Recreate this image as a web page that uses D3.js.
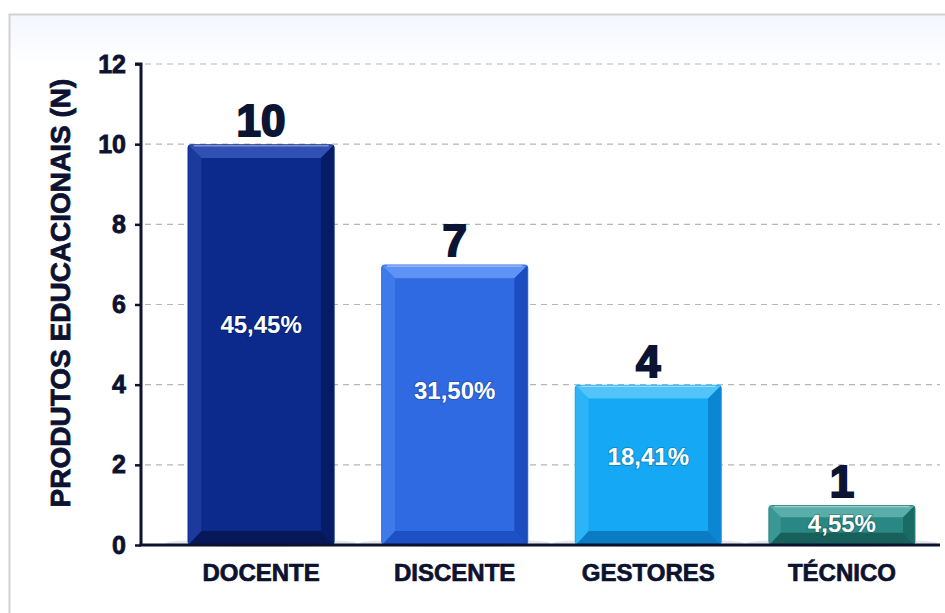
<!DOCTYPE html>
<html>
<head>
<meta charset="utf-8">
<script src="https://cdn.jsdelivr.net/npm/d3@7"></script>
<style>
  body { margin: 0; background: #fff; }
  text { font-family: "Liberation Sans", Arial, sans-serif; font-weight: bold; }
</style>
</head>
<body>
<script>
// chart data
let categories = ["DOCENTE", "DISCENTE", "GESTORES", "TÉCNICO"];
let values = [10, 7, 4, 1];
let percents = ["45,45%", "31,50%", "18,41%", "4,55%"];
let yTicks = [0, 2, 4, 6, 8, 10, 12];

// colour set per bar: face, top bevel, left bevel, right bevel, bottom bevel
let palette = [
  {face: "#0b2a8c", top: "#3150b4", left: "#1c3a9e", right: "#071c66", bottom: "#061858"},
  {face: "#2f6ae2", top: "#5e92f4", left: "#3f7aea", right: "#1b4cc0", bottom: "#1d50c4"},
  {face: "#15a9f5", top: "#52c4fa", left: "#2cb4f7", right: "#0a86d2", bottom: "#0b7cc4"},
  {face: "#2a8884", top: "#5aaeaa", left: "#3a9894", right: "#1a6a66", bottom: "#17605c"}
];

let width = 945, height = 613;
let axisX = 141, baseY = 545;
let ink = "#0c1230";

let svg = d3.select("body").append("svg")
    .attr("width", width)
    .attr("height", height);

// panel background + border
let defs = svg.append("defs");
let grad = defs.append("linearGradient").attr("id", "panelGrad")
    .attr("x1", 0).attr("y1", 0).attr("x2", 0).attr("y2", 1);
grad.append("stop").attr("offset", "0%").attr("stop-color", "#f3f6fc");
grad.append("stop").attr("offset", "8%").attr("stop-color", "#ffffff");
grad.append("stop").attr("offset", "100%").attr("stop-color", "#ffffff");

svg.append("rect")
    .attr("x", 9.5).attr("y", 14.5)
    .attr("width", width).attr("height", height)
    .attr("fill", "url(#panelGrad)")
    .attr("stroke", "#d2d2d2")
    .attr("stroke-width", 2);

// scales
let yScale = d3.scaleLinear().domain([0, 12]).range([baseY, 64]);
let xScale = d3.scaleBand().domain(categories)
    .range([143, 960])
    .paddingInner(0.24)
    .paddingOuter(0.23);

// dashed gridlines
svg.append("g")
  .selectAll("line")
    .data(yTicks.filter(d => d > 0))
  .enter().append("line")
    .attr("x1", axisX + 4).attr("x2", 940)
    .attr("y1", d => yScale(d)).attr("y2", d => yScale(d))
    .attr("stroke", "#b5b5b5")
    .attr("stroke-width", 1.2)
    .attr("stroke-dasharray", "6,5");

// y axis
let yAxis = svg.append("g")
    .attr("transform", "translate(" + axisX + ",0)")
    .call(d3.axisLeft(yScale).tickValues(yTicks).tickSize(6).tickPadding(9));
yAxis.select(".domain").attr("stroke", ink).attr("stroke-width", 3)
    .attr("d", "M-6," + yScale(12) + "H0V" + baseY);
yAxis.selectAll(".tick line").attr("stroke", ink).attr("stroke-width", 2.5);
yAxis.selectAll(".tick text")
    .attr("fill", ink)
    .attr("stroke", ink)
    .attr("stroke-width", 0.8)
    .style("font-size", "25px");

// soft shadow at floor
svg.append("g")
  .selectAll("ellipse")
    .data(categories)
  .enter().append("ellipse")
    .attr("cx", d => xScale(d) + xScale.bandwidth() / 2)
    .attr("cy", baseY - 2)
    .attr("rx", xScale.bandwidth() / 2 + 22)
    .attr("ry", 4)
    .attr("fill", "#d8dbe2")
    .attr("opacity", 0.7);

// bevelled bars
let bars = svg.append("g")
  .selectAll("g")
    .data(categories)
  .enter().append("g");

bars.each(function(d, i) {
  let g = d3.select(this);
  let c = palette[i];
  let x0 = xScale(d), x1 = x0 + xScale.bandwidth();
  let y0 = yScale(values[i]), y1 = baseY;
  let b = Math.min(14, (y1 - y0) / 3.2);
  let pt = p => p.map(q => q.join(",")).join(" ");

  g.append("rect")
      .attr("x", x0).attr("y", y0)
      .attr("width", x1 - x0).attr("height", y1 - y0)
      .attr("rx", 4)
      .attr("fill", c.face);
  g.append("polygon").attr("fill", c.top)
      .attr("points", pt([[x0 + 1, y0 + 1], [x1 - 1, y0 + 1], [x1 - b, y0 + b], [x0 + b, y0 + b]]));
  g.append("polygon").attr("fill", c.left)
      .attr("points", pt([[x0 + 1, y0 + 1], [x0 + b, y0 + b], [x0 + b, y1 - b], [x0 + 1, y1]]));
  g.append("polygon").attr("fill", c.right)
      .attr("points", pt([[x1 - 1, y0 + 1], [x1 - 1, y1], [x1 - b, y1 - b], [x1 - b, y0 + b]]));
  g.append("polygon").attr("fill", c.bottom)
      .attr("points", pt([[x0 + 1, y1], [x1 - 1, y1], [x1 - b, y1 - b], [x0 + b, y1 - b]]));
  g.append("rect")
      .attr("x", x0 + b).attr("y", y0 + b)
      .attr("width", x1 - x0 - 2 * b).attr("height", Math.max(0, y1 - y0 - 2 * b))
      .attr("fill", c.face);
  // highlight line on top edge
  g.append("line")
      .attr("x1", x0 + 6).attr("x2", x1 - 6)
      .attr("y1", y0 + 1.5).attr("y2", y0 + 1.5)
      .attr("stroke", "#ffffff").attr("stroke-opacity", 0.4).attr("stroke-width", 1.5);
});

// x baseline
svg.append("line")
    .attr("x1", axisX - 1.5).attr("x2", 940)
    .attr("y1", baseY).attr("y2", baseY)
    .attr("stroke", ink)
    .attr("stroke-width", 3);

// value labels above bars
svg.append("g")
  .selectAll("text")
    .data(categories)
  .enter().append("text")
    .attr("x", d => xScale(d) + xScale.bandwidth() / 2)
    .attr("y", (d, i) => yScale(values[i]) - 8)
    .attr("text-anchor", "middle")
    .attr("fill", "#0c1433")
    .attr("stroke", "#0c1433")
    .attr("stroke-width", 2)
    .style("font-size", "44px")
    .text((d, i) => values[i]);

// percent labels inside bars
svg.append("g")
  .selectAll("text")
    .data(categories)
  .enter().append("text")
    .attr("x", d => xScale(d) + xScale.bandwidth() / 2)
    .attr("y", (d, i) => yScale(values[i] * 0.55))
    .attr("dy", "0.36em")
    .attr("text-anchor", "middle")
    .attr("fill", "#ffffff")
    .style("font-size", "24px")
    .style("paint-order", "stroke")
    .attr("stroke", "rgba(0,0,0,0.2)")
    .attr("stroke-width", 2)
    .text((d, i) => percents[i]);

// category labels
svg.append("g")
  .selectAll("text")
    .data(categories)
  .enter().append("text")
    .attr("x", d => xScale(d) + xScale.bandwidth() / 2)
    .attr("y", 581)
    .attr("text-anchor", "middle")
    .attr("fill", ink)
    .attr("stroke", ink)
    .attr("stroke-width", 0.7)
    .style("font-size", "24px")
    .text(d => d);

// y axis title
svg.append("text")
    .attr("transform", "translate(70," + 293 + ") rotate(-90)")
    .attr("text-anchor", "middle")
    .attr("fill", ink)
    .attr("stroke", ink)
    .attr("stroke-width", 0.8)
    .style("font-size", "28px")
    .text("PRODUTOS EDUCACIONAIS (N)");
</script>
</body>
</html>
